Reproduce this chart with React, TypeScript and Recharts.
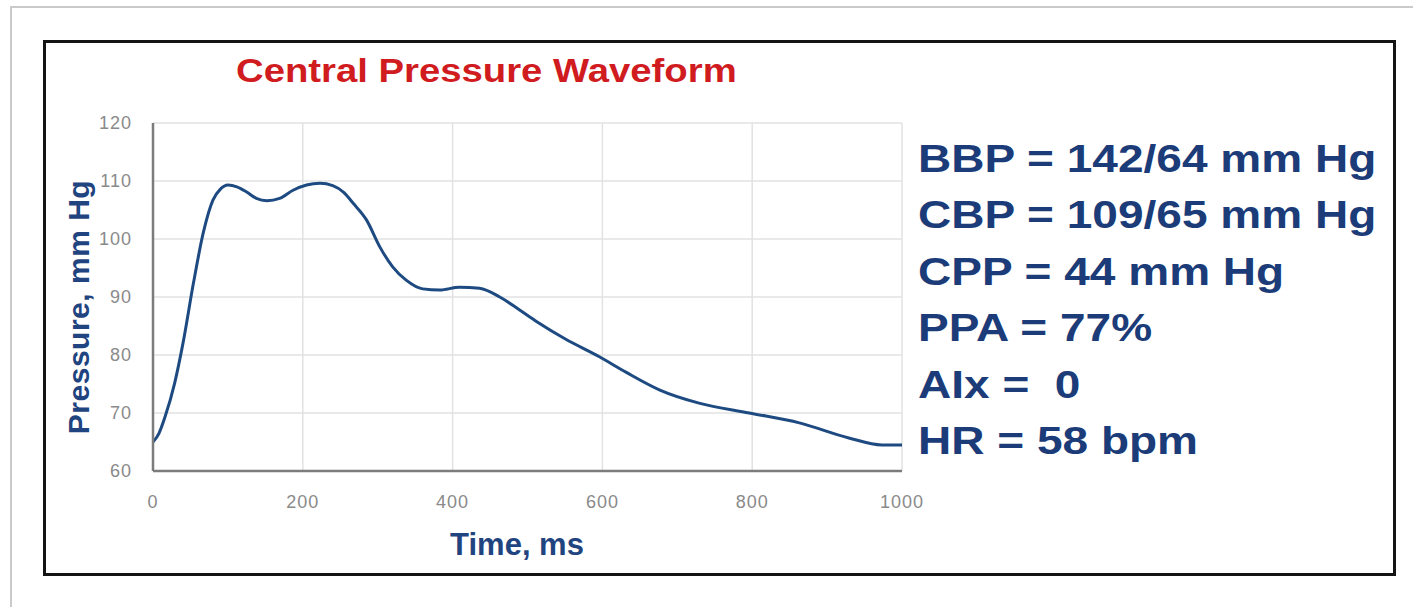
import React from 'react';
import { LineChart, Line, XAxis, YAxis, CartesianGrid } from 'recharts';

// waveform samples
const timeMs = [0, 8, 16, 29, 40, 54, 67, 80, 90, 100, 112, 125, 138, 152, 169, 187, 205, 223, 240, 255, 267, 285, 303, 320, 338, 360, 383, 409, 436, 463, 489, 513, 550, 596, 632, 676, 729, 796, 863, 929, 973, 1000];
const pressure = [65, 66.5, 69.3, 75.2, 82, 92.4, 101, 106.7, 108.6, 109.3, 109, 108.1, 107, 106.6, 107, 108.4, 109.3, 109.6, 109.2, 108, 106.2, 103.3, 98.6, 95.2, 92.9, 91.4, 91.2, 91.7, 91.5, 90, 87.8, 85.7, 82.8, 79.7, 77, 74, 71.7, 70, 68.3, 65.7, 64.5, 64.5];

const xTicks = [0, 200, 400, 600, 800, 1000];
const yTicks = [60, 70, 80, 90, 100, 110, 120];

const stats = [
  'BBP = 142/64 mm Hg',
  'CBP = 109/65 mm Hg',
  'CPP = 44 mm Hg',
  'PPA = 77%',
  'AIx =  0',
  'HR = 58 bpm',
];

const font = '"Liberation Sans", Arial, sans-serif';
const navy = '#1b3c78';

export default function App() {
  const data = timeMs.map((t, i) => ({ t, p: pressure[i] }));
  const tick = { fill: '#8a8a8a', fontSize: 18, fontFamily: font, letterSpacing: 1 };

  return (
    <div style={{ position: 'absolute', left: 0, top: 0, width: 1413, height: 607, overflow: 'hidden', background: '#fff', fontFamily: font }}>
      <div style={{ position: 'absolute', left: 10, top: 6, width: 1500, height: 700, border: '2px solid #cacaca' }} />
      <div style={{ position: 'absolute', left: 43, top: 40, width: 1353, height: 536, boxSizing: 'border-box', border: '3px solid #141414' }} />

      <div style={{ position: 'absolute', left: 0, top: 0 }}>
        <LineChart width={960} height={560} data={data} margin={{ top: 123, right: 58, left: 0, bottom: 0 }}>
          <CartesianGrid stroke="#e2e2e2" strokeWidth={1.5} />
          <XAxis
            dataKey="t"
            type="number"
            domain={[0, 1000]}
            ticks={xTicks}
            height={89}
            tick={tick}
            tickLine={false}
            tickMargin={18}
            axisLine={{ stroke: '#7c7c7c', strokeWidth: 2.5 }}
          />
          <YAxis
            type="number"
            domain={[60, 120]}
            ticks={yTicks}
            width={153}
            tick={tick}
            tickLine={false}
            tickMargin={15}
            axisLine={{ stroke: '#7c7c7c', strokeWidth: 2.5 }}
          />
          <Line
            type="monotone"
            dataKey="p"
            stroke="#1e4a82"
            strokeWidth={3}
            dot={false}
            isAnimationActive={false}
          />
        </LineChart>
      </div>

      <div style={{ position: 'absolute', left: 236, top: 54, fontSize: 33, lineHeight: 1, fontWeight: 700, color: '#d01b1f', whiteSpace: 'nowrap', transform: 'scaleX(1.16)', transformOrigin: 'left top' }}>
        Central Pressure Waveform
      </div>

      <div style={{ position: 'absolute', left: 517, top: 529, fontSize: 31, lineHeight: 1, fontWeight: 700, color: '#1f4480', whiteSpace: 'nowrap', transform: 'translateX(-50%)' }}>
        Time, ms
      </div>

      <div style={{ position: 'absolute', left: 79, top: 307, fontSize: 30, lineHeight: 1, fontWeight: 700, color: '#1f4480', whiteSpace: 'nowrap', letterSpacing: 0.5, transform: 'translate(-50%, -50%) rotate(-90deg)' }}>
        Pressure, mm Hg
      </div>

      <div style={{ position: 'absolute', left: 918, top: 131, fontSize: 39, lineHeight: '56.4px', fontWeight: 700, color: navy, whiteSpace: 'pre', transform: 'scaleX(1.18)', transformOrigin: 'left top' }}>
        {stats.map((s) => (
          <div key={s}>{s}</div>
        ))}
      </div>
    </div>
  );
}
